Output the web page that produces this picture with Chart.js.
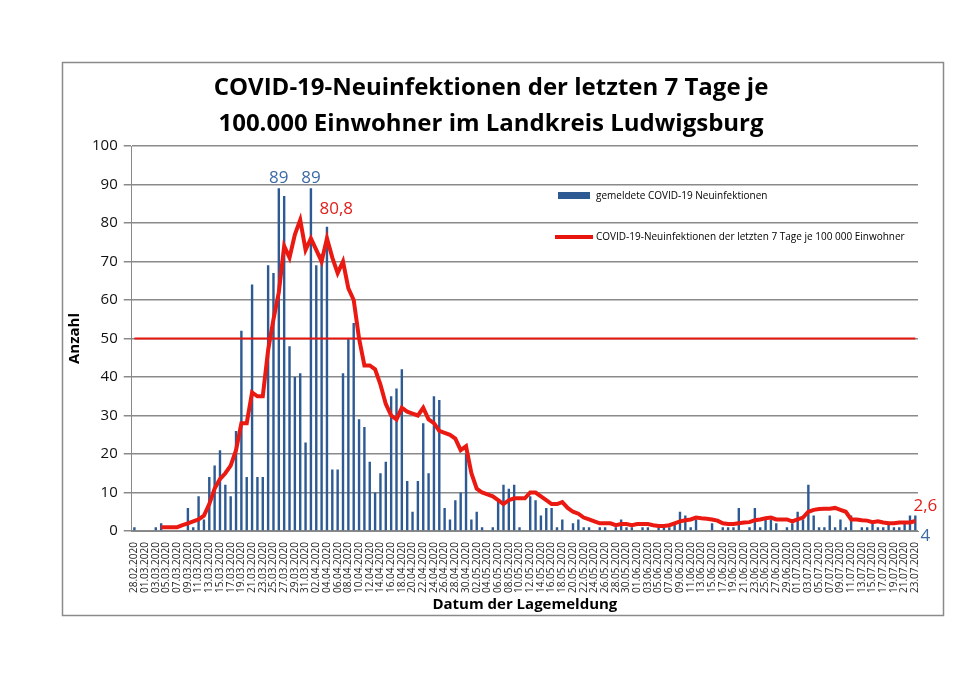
<!DOCTYPE html>
<html>
<head>
<meta charset="utf-8">
<script src="https://cdn.jsdelivr.net/npm/chart.js@4/dist/chart.umd.min.js"></script>
<style>
  html, body { margin: 0; padding: 0; background: #fff; }
  #wrap { width: 960px; height: 678px; }
</style>
</head>
<body>
<div id="wrap"><canvas id="c" width="960" height="678"></canvas></div>
<script>
// Tagesdaten 28.02.2020 - 23.07.2020
const startDate = new Date(2020, 1, 28);
const dayCount = 147;
const dateLabels = [];
for (let i = 0; i < dayCount; i++) {
  const d = new Date(startDate.getTime() + i * 86400000);
  const dd = String(d.getDate()).padStart(2, '0');
  const mm = String(d.getMonth() + 1).padStart(2, '0');
  dateLabels.push(dd + '.' + mm + '.2020');
}

// gemeldete Neuinfektionen pro Tag
const newCases = [
  1,0,0,0,1,2,0,0,0,0, 6,1,9,3,14,17,21,12,9,26,
  52,14,64,14,14,69,67,89,87,48, 40,41,23,89,69,72,79,16,16,41,
  50,54,29,27,18,10,15,18,35,37, 42,13,5,13,28,15,35,34,6,3,
  8,10,20,3,5,1,0,1,8,12, 11,12,1,0,9,8,4,6,6,1,
  3,0,2,3,1,1,0,1,1,0, 1,3,1,1,0,1,1,0,1,1,
  1,2,5,4,1,3,0,0,2,0, 1,1,1,6,0,1,6,1,3,3,
  2,0,1,2,5,3,12,4,1,1, 4,1,3,1,4,0,1,1,2,1, 1,2,1,1,2,4,4
];

// 7-Tage-Inzidenz je 100 000 Einwohner
const incidence = [
  null,null,null,null,null,1,1,1,1,1.5, 2,2.5,3,4,7,11,13.5,15,17,21,
  28,28,36,35,35,47,55,62,74,71, 77,80.8,73,76,73,70,76,71,67,70,
  63,60,50,43,43,42,38,33,30,29, 32,31,30.5,30,32,29,28,26,25.5,25,
  24,21,22,15,11,10,9.5,9,8,7, 8,8.5,8.5,8.5,10,10,9,8,7,7,
  7.5,6,5,4.5,3.5,3,2.5,2,2,2, 1.5,1.8,1.8,1.5,1.8,1.8,1.8,1.5,1.3,1.3,
  1.5,2,2.5,2.8,3,3.5,3.3,3.2,3,2.7, 2,1.8,1.8,2,2.2,2.3,2.8,3,3.3,3.5,
  3,3,3,2.5,3,3.5,5,5.5,5.7,5.8, 5.8,6,5.5,5,3,3,2.8,2.7,2.3,2.5, 2.2,2,2,2.2,2.2,2.2,2.6
];

const threshold = dateLabels.map(() => 50);
const yTicks = [0,10,20,30,40,50,60,70,80,90,100];

// Beschriftungen an einzelnen Punkten: [Index, Wert, Text, Farbe, dx, dy]
const annotations = [
  [27, 89, '89', '#3d6aa3', 0, -14],
  [33, 89, '89', '#3d6aa3', 0, -14],
  [31, 80.8, '80,8', '#e0201b', 36, -14],
  [146, 2.6, '2,6', '#e0201b', 10, -18],
  [146, 0, '4', '#3d6aa3', 10, 2]
];

const extras = {
  id: 'extras',
  beforeDraw(chart) {
    const ctx = chart.ctx;
    ctx.save();
    ctx.fillStyle = '#fff';
    ctx.fillRect(0, 0, chart.width, chart.height);
    ctx.strokeStyle = '#8a8a8a';
    ctx.lineWidth = 1.5;
    ctx.strokeRect(62.5, 62.5, 881, 553);
    ctx.restore();
  },
  afterDatasetsDraw(chart) {
    const ctx = chart.ctx;
    const xs = chart.scales.x, ys = chart.scales.y;
    ctx.save();
    ctx.textAlign = 'center';
    ctx.textBaseline = 'bottom';
    ctx.font = '17px "Open Sans", sans-serif';
    annotations.forEach(a => {
      ctx.fillStyle = a[3];
      ctx.fillText(a[2], xs.getPixelForValue(a[0]) + a[4], ys.getPixelForValue(a[1]) + a[5] + 12);
    });
    // Legende
    ctx.font = '10px "Open Sans", sans-serif';
    ctx.textAlign = 'left';
    ctx.textBaseline = 'middle';
    ctx.fillStyle = '#2e5a94';
    ctx.fillRect(558, 192, 32, 7);
    ctx.fillStyle = '#000';
    ctx.fillText('gemeldete COVID-19 Neuinfektionen', 596, 196);
    ctx.strokeStyle = '#e8150f';
    ctx.lineWidth = 4;
    ctx.beginPath(); ctx.moveTo(555, 237); ctx.lineTo(593, 237); ctx.stroke();
    ctx.fillText('COVID-19-Neuinfektionen der letzten 7 Tage je 100 000 Einwohner', 596, 237);
    ctx.restore();
  }
};

new Chart(document.getElementById('c'), {
  data: {
    labels: dateLabels,
    datasets: [
      { type: 'line', data: incidence, borderColor: '#ea1a12', borderWidth: 4, pointRadius: 0, tension: 0, order: 0 },
      { type: 'line', data: threshold, borderColor: '#e8150f', borderWidth: 2, pointRadius: 0, order: 1 },
      { type: 'bar', data: newCases, backgroundColor: '#2e5a94', barPercentage: 0.45, categoryPercentage: 1, order: 2 }
    ]
  },
  options: {
    responsive: false,
    animation: false,
    layout: { padding: { left: 64, right: 42, top: 66, bottom: 64 } },
    plugins: {
      legend: { display: false },
      tooltip: { enabled: false },
      title: {
        display: true,
        text: ['COVID-19-Neuinfektionen der letzten 7 Tage je', '100.000 Einwohner im Landkreis Ludwigsburg'],
        color: '#000',
        font: { family: '"Open Sans", sans-serif', size: 24, weight: 'bold', lineHeight: 1.5 },
        padding: { top: 4, bottom: 4 }
      }
    },
    scales: {
      x: {
        offset: true,
        grid: { display: false, drawTicks: true },
        border: { color: '#888' },
        ticks: {
          autoSkip: false, maxRotation: 90, minRotation: 90, color: '#222',
          font: { family: '"Open Sans", sans-serif', size: 10 },
          callback: (v, i) => i % 2 === 0 ? dateLabels[i] : ''
        },
        title: { display: true, text: 'Datum der Lagemeldung', color: '#000', font: { family: '"Open Sans", sans-serif', size: 15, weight: 'bold' }, padding: 0 }
      },
      y: {
        min: 0, max: 100,
        afterBuildTicks: s => { s.ticks = yTicks.map(v => ({ value: v })); },
        grid: { color: '#8a8a8a', lineWidth: 1.5 },
        border: { color: '#888' },
        ticks: { color: '#111', padding: 6, font: { family: '"Open Sans", sans-serif', size: 15 } },
        title: { display: true, text: 'Anzahl', color: '#000', font: { family: '"Open Sans", sans-serif', size: 15, weight: 'bold' }, padding: 2 }
      }
    }
  },
  plugins: [extras]
});
</script>
</body>
</html>
